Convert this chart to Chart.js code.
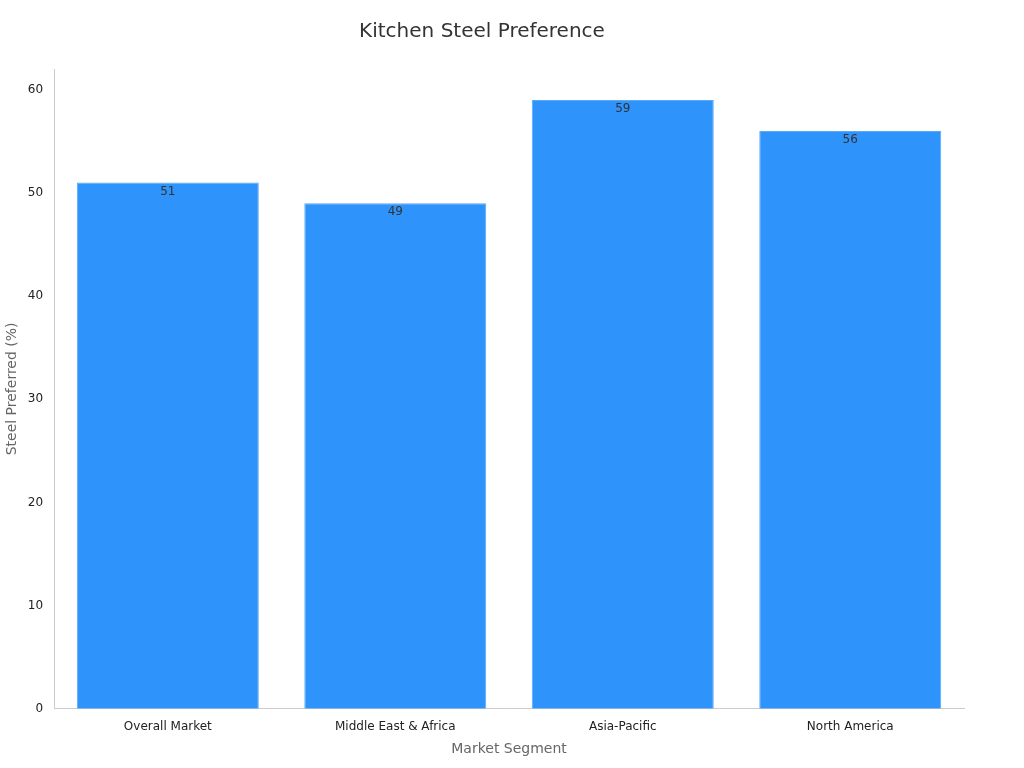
<!DOCTYPE html>
<html><head><meta charset="utf-8">
<script src="https://cdn.jsdelivr.net/npm/chart.js@4"></script>
<style>html,body{margin:0;background:#fff}#w{width:1024px;height:768px}</style>
</head><body><div id="w"><canvas id="c"></canvas></div>
<script>
const categories = ["Overall Market","Middle East & Africa","Asia-Pacific","North America"];
const values = [51,49,59,56];
const yTicks = [0,10,20,30,40,50,60];
Chart.defaults.font.family = "DejaVu Sans";
const labelPlugin = {id:'lbl', afterDatasetsDraw(ch){
  const ctx=ch.ctx; const meta=ch.getDatasetMeta(0);
  ctx.save(); ctx.fillStyle='#333'; ctx.font='12px DejaVu Sans'; ctx.textAlign='center'; ctx.textBaseline='top';
  meta.data.forEach((b,i)=>ctx.fillText(values[i], b.x, b.y+3));
  ctx.restore();
}};
new Chart(document.getElementById('c'),{
  type:'bar',
  data:{labels:categories,datasets:[{data:values,backgroundColor:'#2E93FA',borderColor:'#5aaaf5',borderWidth:1,barPercentage:0.8,categoryPercentage:1}]},
  options:{responsive:true,maintainAspectRatio:false,animation:false,
    layout:{padding:{left:0,right:60,top:10,bottom:6}},
    plugins:{legend:{display:false},tooltip:{enabled:false},
      title:{display:true,text:'Kitchen Steel Preference',color:'#333',font:{size:20,weight:'normal'},padding:{top:10,bottom:25}}},
    scales:{
      x:{grid:{display:false,drawTicks:true},border:{color:'#ccc'},ticks:{color:'#222',font:{size:12}},
        title:{display:true,text:'Market Segment',color:'#666',font:{size:14}}},
      y:{min:0,max:62,afterBuildTicks(a){a.ticks=yTicks.map(v=>({value:v}));},
        grid:{display:false,drawTicks:true},border:{color:'#ccc'},ticks:{color:'#222',font:{size:12}},
        title:{display:true,text:'Steel Preferred (%)',color:'#666',font:{size:14}}}
    }},
  plugins:[labelPlugin]
});
</script></body></html>
